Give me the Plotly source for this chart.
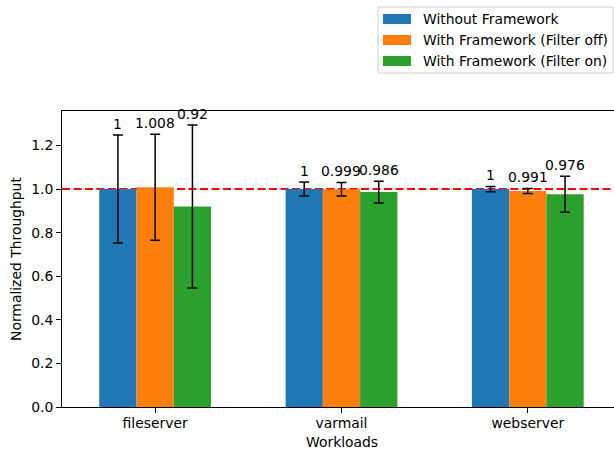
import plotly.graph_objects as go

# Workloads and normalized throughput (mean, error) per configuration
workloads = ["fileserver", "varmail", "webserver"]
series_names = ["Without Framework", "With Framework (Filter off)", "With Framework (Filter on)"]
colors = ["#1f77b4", "#ff7f0e", "#2ca02c"]

without_fw = [1.0, 1.0, 1.0]
with_fw_off = [1.008, 0.999, 0.991]
with_fw_on = [0.92, 0.986, 0.976]

without_fw_err = [0.248, 0.032, 0.012]
with_fw_off_err = [0.243, 0.031, 0.012]
with_fw_on_err = [0.374, 0.05, 0.083]

values = [without_fw, with_fw_off, with_fw_on]
errors = [without_fw_err, with_fw_off_err, with_fw_on_err]
offsets = [-0.2, 0.0, 0.2]

FONT = "DejaVu Sans"
FS = 13.9
W, H = 614, 450
L, R, T, B = 62, 0, 111, 43

fig = go.Figure()
for name, vals, errs, col in zip(series_names, values, errors, colors):
    fig.add_trace(go.Bar(
        x=workloads, y=vals, name=name,
        marker=dict(color=col, line=dict(width=0)),
        error_y=dict(type="data", array=errs, visible=True,
                     color="black", thickness=1.5, width=5),
        showlegend=False,
    ))

# value labels above the error bar caps
def fmt(v):
    return f"{v:g}"

annotations = []
for vals, errs, off in zip(values, errors, offsets):
    for i, (v, e) in enumerate(zip(vals, errs)):
        annotations.append(dict(
            x=i + off, y=v + e, xref="x", yref="y",
            text=fmt(v), showarrow=False, yanchor="bottom", xanchor="center",
            yshift=1, font=dict(family=FONT, size=FS, color="black"),
        ))

# axis titles
annotations.append(dict(
    x=(341.5 - L) / (W - L - R), y=-(442 - (H - B)) / (H - T - B),
    xref="paper", yref="paper", text="Workloads", showarrow=False,
    xanchor="center", yanchor="middle",
    font=dict(family=FONT, size=FS, color="black"),
))
annotations.append(dict(
    x=-(L - 16) / (W - L - R), y=0.5, xref="paper", yref="paper",
    text="Normalized Throughput", showarrow=False, textangle=-90,
    xanchor="center", yanchor="middle",
    font=dict(family=FONT, size=FS, color="black"),
))

shapes = [
    # baseline reference at 1.0
    dict(type="line", xref="paper", yref="y", x0=0, x1=1, y0=1.0, y1=1.0,
         line=dict(color="red", width=2, dash="8px,3.5px"), layer="below"),
]

# legend box drawn in pixel-based paper coordinates
pw, ph = W - L - R, H - T - B
def px_x(x):
    return (x - L) / pw
def px_y(y):
    return (H - B - y) / ph

shapes.append(dict(type="rect", xref="paper", yref="paper",
                   x0=px_x(378), x1=px_x(613), y0=px_y(73), y1=px_y(7),
                   line=dict(color="#cccccc", width=1), fillcolor="white",
                   layer="above"))
row_y = [19, 40, 61]
for name, col, yc in zip(series_names, colors, row_y):
    shapes.append(dict(type="rect", xref="paper", yref="paper",
                       x0=px_x(383), x1=px_x(411), y0=px_y(yc + 5), y1=px_y(yc - 5),
                       line=dict(width=0), fillcolor=col, layer="above"))
    annotations.append(dict(
        x=px_x(421), y=px_y(yc), xref="paper", yref="paper", text=name,
        showarrow=False, xanchor="left", yanchor="middle",
        font=dict(family=FONT, size=FS, color="black"),
    ))

fig.update_layout(
    width=W, height=H,
    margin=dict(l=L, r=R, t=T, b=B, pad=0),
    paper_bgcolor="white", plot_bgcolor="white",
    barmode="group", bargap=0.4, bargroupgap=0.0,
    font=dict(family=FONT, size=FS, color="black"),
    annotations=annotations, shapes=shapes,
    showlegend=False,
)
fig.update_xaxes(
    type="category", range=[-0.5, (614 - 155.2) / 186.3],
    showline=True, linecolor="black", linewidth=1, mirror=True,
    ticks="outside", ticklen=5, tickwidth=1, tickcolor="black",
    ticklabelstandoff=-2,
    showgrid=False, zeroline=False,
    tickfont=dict(family=FONT, size=FS, color="black"),
)
fig.update_yaxes(
    range=[0, 1.358], tickvals=[0, 0.2, 0.4, 0.6, 0.8, 1.0, 1.2],
    tickformat=".1f",
    showline=True, linecolor="black", linewidth=1, mirror=False,
    ticks="outside", ticklen=5, tickwidth=1, tickcolor="black",
    showgrid=False, zeroline=False,
    tickfont=dict(family=FONT, size=FS, color="black"),
)

fig.write_html("out.html")
